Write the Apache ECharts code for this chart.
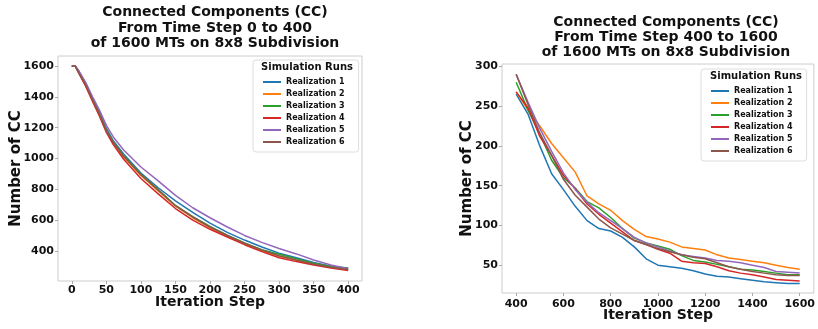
<!DOCTYPE html>
<html>
<head>
<meta charset="utf-8">
<script src="https://cdn.jsdelivr.net/npm/echarts@6/dist/echarts.min.js"></script>
<style>
  html, body { margin: 0; padding: 0; background: #fff; }
  #chart { width: 818px; height: 329px; }
</style>
</head>
<body>
<div id="chart"></div>
<script>
// left panel: steps 0..400
var stepsA = [0, 5, 10, 20, 30, 40, 50, 60, 75, 100, 125, 150, 175, 200, 225, 250, 275, 300, 325, 350, 375, 400];
var a1 = [1600, 1600, 1570, 1490, 1390, 1300, 1195, 1115, 1030, 905, 810, 725, 650, 580, 520, 470, 425, 385, 355, 325, 300, 287];
var a2 = [1600, 1600, 1560, 1475, 1375, 1285, 1180, 1100, 1010, 890, 790, 690, 615, 550, 495, 445, 400, 365, 338, 312, 292, 280];
var a3 = [1600, 1600, 1562, 1480, 1382, 1290, 1185, 1108, 1020, 898, 798, 695, 622, 558, 502, 452, 408, 378, 348, 320, 298, 288];
var a4 = [1600, 1600, 1555, 1470, 1370, 1275, 1170, 1090, 995, 870, 770, 675, 600, 540, 490, 440, 395, 355, 330, 308, 288, 272];
var a5 = [1600, 1600, 1570, 1495, 1400, 1315, 1215, 1140, 1055, 945, 855, 760, 680, 615, 555, 500, 455, 415, 380, 340, 308, 283];
var a6 = [1600, 1600, 1558, 1478, 1380, 1288, 1180, 1105, 1015, 895, 795, 693, 620, 555, 500, 450, 405, 368, 340, 315, 293, 278];

// right panel: steps 400..1600
var stepsB = [400, 450, 500, 550, 600, 650, 700, 750, 800, 850, 900, 950, 1000, 1050, 1100, 1150, 1200, 1250, 1300, 1350, 1400, 1450, 1500, 1550, 1600];
var b1 = [265, 240, 200, 165, 145, 124, 106, 96, 93, 85, 73, 58, 50, 48, 46, 43, 39, 36, 35, 33, 31, 29, 28, 27, 27];
var b2 = [268, 245, 225, 203, 185, 167, 137, 127, 119, 106, 95, 86, 83, 79, 73, 71, 69, 63, 59, 57, 55, 53, 50, 47, 45];
var b3 = [280, 245, 215, 182, 160, 147, 130, 122, 110, 96, 84, 78, 74, 70, 62, 56, 54, 51, 48, 45, 44, 42, 40, 38, 38];
var b4 = [268, 248, 212, 188, 163, 146, 127, 114, 103, 92, 81, 76, 70, 65, 55, 53, 52, 48, 43, 40, 38, 35, 32, 31, 30];
var b5 = [290, 255, 222, 193, 166, 145, 129, 116, 106, 96, 85, 78, 73, 68, 63, 61, 59, 56, 55, 53, 50, 47, 42, 41, 40];
var b6 = [290, 252, 216, 188, 158, 138, 123, 108, 97, 89, 81, 76, 71, 67, 63, 60, 58, 53, 48, 45, 42, 40, 38, 37, 37];

var xTicksA = [0, 50, 100, 150, 200, 250, 300, 350, 400];
var yTicksA = [400, 600, 800, 1000, 1200, 1400, 1600];
var xTicksB = [400, 600, 800, 1000, 1200, 1400, 1600];
var yTicksB = [50, 100, 150, 200, 250, 300];

var names = ['Realization 1', 'Realization 2', 'Realization 3', 'Realization 4', 'Realization 5', 'Realization 6'];
var colors = ['#1f77b4', '#ff7f0e', '#2ca02c', '#d62728', '#9467bd', '#8c564b'];

var FONT = 'DejaVu Sans';

function pairs(xs, ys) {
    var out = [];
    for (var i = 0; i < xs.length; i++) {
        out.push([xs[i], ys[i]]);
    }
    return out;
}

function plain(v) {
    return String(v);
}

function xAxisOf(idx, min, max, ticks, gap, margin) {
    return {
        type: 'value', gridIndex: idx, min: min, max: max,
        name: 'Iteration Step', nameLocation: 'middle', nameGap: gap, nameMoveOverlap: false,
        nameTextStyle: {fontFamily: FONT, fontWeight: 'bold', fontSize: 14, color: '#111'},
        axisLine: {show: false, onZero: false},
        axisTick: {show: true, length: 3, customValues: ticks, lineStyle: {color: '#aaa'}},
        axisLabel: {customValues: ticks, formatter: plain, margin: margin, fontFamily: FONT, fontWeight: 'bold', fontSize: 11, color: '#111'},
        splitLine: {show: false}
    };
}

function yAxisOf(idx, min, max, ticks, gap) {
    return {
        type: 'value', gridIndex: idx, min: min, max: max,
        name: 'Number of CC', nameLocation: 'middle', nameGap: gap, nameRotate: 90, nameMoveOverlap: false,
        nameTextStyle: {fontFamily: FONT, fontWeight: 'bold', fontSize: 15, color: '#111'},
        axisLine: {show: false, onZero: false},
        axisTick: {show: true, length: 3, customValues: ticks, lineStyle: {color: '#aaa'}},
        axisLabel: {customValues: ticks, formatter: plain, margin: 4, fontFamily: FONT, fontWeight: 'bold', fontSize: 11, color: '#111'},
        splitLine: {show: false}
    };
}

function legendOf(left, top) {
    return {
        data: names, orient: 'vertical', left: left, top: top,
        padding: [17, 14, 5, 10], itemGap: 2, itemWidth: 18, itemHeight: 2, icon: 'rect',
        backgroundColor: '#fff', borderColor: '#ddd', borderWidth: 1, borderRadius: 3,
        textStyle: {fontFamily: FONT, fontWeight: 'bold', fontSize: 8, lineHeight: 10, color: '#111'}
    };
}

var series = [];
var setA = [a1, a2, a3, a4, a5, a6];
var setB = [b1, b2, b3, b4, b5, b6];
for (var i = 0; i < 6; i++) {
    series.push({
        name: names[i], type: 'line', xAxisIndex: 0, yAxisIndex: 0,
        data: pairs(stepsA, setA[i]), showSymbol: false, symbol: 'none',
        lineStyle: {width: 1.5, color: colors[i]}, itemStyle: {color: colors[i]}
    });
}
for (var j = 0; j < 6; j++) {
    series.push({
        name: names[j], type: 'line', xAxisIndex: 1, yAxisIndex: 1,
        data: pairs(stepsB, setB[j]), showSymbol: false, symbol: 'none',
        lineStyle: {width: 1.5, color: colors[j]}, itemStyle: {color: colors[j]}
    });
}

var titleFont = 'bold 14px "DejaVu Sans"';
var chart = echarts.init(document.getElementById('chart'));
chart.setOption({
    animation: false,
    backgroundColor: '#fff',
    grid: [
        {left: 58, top: 56, width: 304, height: 225, show: true, borderColor: '#ccc', borderWidth: 1},
        {left: 502, top: 64, width: 313, height: 229, show: true, borderColor: '#ccc', borderWidth: 1}
    ],
    xAxis: [xAxisOf(0, -20, 420, xTicksA, 14, 4), xAxisOf(1, 340, 1660, xTicksB, 15, 6)],
    yAxis: [yAxisOf(0, 204, 1666, yTicksA, 34), yAxisOf(1, 15, 303, yTicksB, 27)],
    legend: [legendOf(253, 60), legendOf(701, 69)],
    graphic: [
        {type: 'text', z: 100, x: 215, y: 5,
            style: {text: 'Connected Components (CC)\nFrom Time Step 0 to 400\nof 1600 MTs on 8x8 Subdivision',
                textAlign: 'center', font: titleFont, lineHeight: 15.3, fill: '#111'}},
        {type: 'text', z: 100, x: 666, y: 14.5,
            style: {text: 'Connected Components (CC)\nFrom Time Step 400 to 1600\nof 1600 MTs on 8x8 Subdivision',
                textAlign: 'center', font: titleFont, lineHeight: 15.3, fill: '#111'}},
        {type: 'text', z: 100, x: 307, y: 62,
            style: {text: 'Simulation Runs', textAlign: 'center', font: 'bold 10px "DejaVu Sans"', fill: '#111'}},
        {type: 'text', z: 100, x: 756, y: 71,
            style: {text: 'Simulation Runs', textAlign: 'center', font: 'bold 10px "DejaVu Sans"', fill: '#111'}}
    ],
    series: series
});
</script>
</body>
</html>
